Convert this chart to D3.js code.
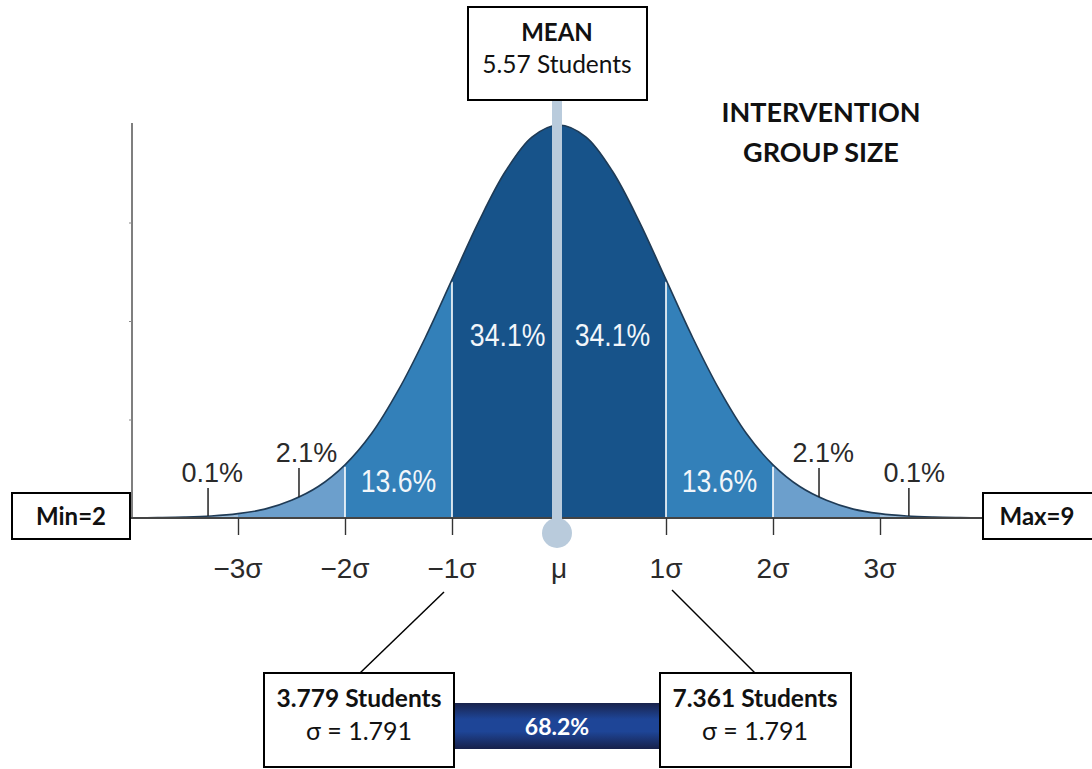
<!DOCTYPE html>
<html>
<head>
<meta charset="utf-8">
<script src="https://cdn.jsdelivr.net/npm/d3@7"></script>
<style>
  body { margin: 0; background: #fff; }
  .box-text { font-family: Lato, "Open Sans", sans-serif; }
  .fig-text { font-family: "Liberation Sans", Arial, sans-serif; }
</style>
</head>
<body>
<svg id="chart" width="1092" height="769"></svg>
<script>
// bell curve heights (z in sigma units, density)
const curveZ = [-4, -3.75, -3.5, -3.25, -3, -2.75, -2.5, -2.25, -2, -1.75, -1.5, -1.25, -1, -0.75, -0.5, -0.25,
  0, 0.25, 0.5, 0.75, 1, 1.25, 1.5, 1.75, 2, 2.25, 2.5, 2.75, 3, 3.25, 3.5, 3.75, 4];
const curveDensity = [0.0001, 0.0004, 0.0009, 0.002, 0.0044, 0.009, 0.018, 0.032, 0.054, 0.086, 0.130, 0.183, 0.242, 0.301, 0.352, 0.387,
  0.399, 0.387, 0.352, 0.301, 0.242, 0.183, 0.130, 0.086, 0.054, 0.032, 0.018, 0.009, 0.0044, 0.002, 0.0009, 0.0004, 0.0001];

const sigmaTicks = [-3, -2, -1, 0, 1, 2, 3];
const sigmaLabels = ["\u22123\u03c3", "\u22122\u03c3", "\u22121\u03c3", "\u03bc", "1\u03c3", "2\u03c3", "3\u03c3"];
const bandPct = ["0.1%", "2.1%", "13.6%", "34.1%", "34.1%", "13.6%", "2.1%", "0.1%"];

const meanStudents = 5.57;
const sdStudents = 1.791;
const minStudents = 2;
const maxStudents = 9;
const lowerStudents = 3.779;
const upperStudents = 7.361;
const withinOneSd = "68.2%";
const titleLines = ["INTERVENTION", "GROUP SIZE"];

const svg = d3.select("#chart");
const pts = curveZ.map((z, i) => ({z: z, d: curveDensity[i]}));

const x = d3.scaleLinear().domain([-4, 4]).range([131, 987]);
const y = d3.scaleLinear().domain([0, 0.399]).range([518, 125]);

// colour bands clipped from one area
const bands = [
  {from: -4, to: -3, color: "#9dbfdd"},
  {from: -3, to: -2, color: "#6c9fcc"},
  {from: -2, to: -1, color: "#3380b9"},
  {from: -1, to: 1, color: "#17538a"},
  {from: 1, to: 2, color: "#3380b9"},
  {from: 2, to: 3, color: "#6c9fcc"},
  {from: 3, to: 4, color: "#9dbfdd"}
];

const area = d3.area().x(d => x(d.z)).y0(y(0)).y1(d => y(d.d)).curve(d3.curveCatmullRom);
const line = d3.line().x(d => x(d.z)).y(d => y(d.d)).curve(d3.curveCatmullRom);

const defs = svg.append("defs");
bands.forEach((b, i) => {
  defs.append("clipPath").attr("id", "band" + i)
    .append("rect")
    .attr("x", x(b.from)).attr("width", x(b.to) - x(b.from))
    .attr("y", 0).attr("height", y(0));
});

const grad = defs.append("linearGradient").attr("id", "barGrad")
  .attr("x1", 0).attr("y1", 0).attr("x2", 0).attr("y2", 1);
grad.append("stop").attr("offset", "0%").attr("stop-color", "#19234c");
grad.append("stop").attr("offset", "35%").attr("stop-color", "#1e4597");
grad.append("stop").attr("offset", "62%").attr("stop-color", "#1e4597");
grad.append("stop").attr("offset", "100%").attr("stop-color", "#17214a");

svg.selectAll(".band").data(bands).enter().append("path")
  .attr("class", "band")
  .attr("d", area(pts))
  .attr("clip-path", (d, i) => "url(#band" + i + ")")
  .attr("fill", d => d.color);

// white separators at +-1, +-2 sigma
svg.selectAll(".sep").data([-2, -1, 1, 2]).enter().append("line")
  .attr("x1", d => x(d)).attr("x2", d => x(d))
  .attr("y1", y(0))
  .attr("y2", d => y(curveDensity[curveZ.indexOf(d)]) + 2)
  .attr("stroke", "#fff").attr("stroke-width", 1.6);

svg.append("path").attr("d", line(pts))
  .attr("fill", "none").attr("stroke", "#1f3b56").attr("stroke-width", 1.6);

// y axis (no labels)
const yAxis = svg.append("g").attr("transform", "translate(132,0)")
  .call(d3.axisLeft(y).tickValues([0.1, 0.2, 0.3]).tickSize(3).tickFormat(""));
yAxis.select(".domain").attr("d", "M0," + (y(0.399) - 2) + "V" + y(0)).attr("stroke", "#555").attr("stroke-width", 1.5);
yAxis.selectAll(".tick line").attr("stroke", "#888");

// baseline + sigma ticks
const xAxis = svg.append("g").attr("transform", "translate(0," + y(0) + ")")
  .call(d3.axisBottom(x).tickValues(sigmaTicks).tickSize(17).tickFormat(""));
xAxis.select(".domain").attr("d", "M131,0H988").attr("stroke", "#444").attr("stroke-width", 2);
xAxis.selectAll(".tick line").attr("stroke", "#333").attr("stroke-width", 1.4)
  .attr("display", d => d === 0 ? "none" : null);

svg.selectAll(".sig").data(sigmaTicks).enter().append("text")
  .attr("class", "fig-text")
  .attr("x", d => x(d))
  .attr("y", 578)
  .attr("text-anchor", "middle")
  .attr("font-size", 28)
  .attr("fill", "#2a2a2a")
  .text((d, i) => sigmaLabels[i]);

// percentage labels
const pctPos = [-3.24, -2.36, -1.5, -0.48, 0.5, 1.5, 2.47, 3.32];
const pctBase = [482, 462, 492, 346, 346, 492, 462, 482];
const pctTick = [-3.28, -2.43, null, null, null, null, 2.43, 3.27];
const inner = i => i >= 2 && i <= 5;
svg.selectAll(".pct").data(bandPct).enter().append("text")
  .attr("class", "fig-text")
  .attr("transform", (d, i) => "translate(" + x(pctPos[i]) + "," + pctBase[i] + ")" + (inner(i) ? " scale(0.86,1)" : ""))
  .attr("text-anchor", "middle")
  .attr("font-size", (d, i) => inner(i) ? 31 : 27)
  .attr("fill", (d, i) => inner(i) ? "#f2f6fa" : "#2a2a2a")
  .text(d => d);

svg.selectAll(".pctTick").data(pctTick.filter(d => d !== null)).enter().append("line")
  .attr("x1", d => x(d)).attr("x2", d => x(d))
  .attr("y1", d => Math.abs(d) > 3 ? 488 : 468)
  .attr("y2", d => Math.abs(d) > 3 ? 516 : 497)
  .attr("stroke", "#222").attr("stroke-width", 1.5);

// mean pole and marker
svg.append("rect").attr("x", x(0) - 7).attr("width", 10)
  .attr("y", 100).attr("height", 433)
  .attr("fill", "#b9cbdc");
svg.append("circle").attr("cx", x(0) - 2).attr("cy", 533).attr("r", 15).attr("fill", "#b9cbdc");

// boxes
function box(x0, y0, w, h) {
  svg.append("rect").attr("x", x0).attr("y", y0).attr("width", w).attr("height", h)
    .attr("fill", "#fff").attr("stroke", "#000").attr("stroke-width", 2);
}
function txt(tx, ty, s, size, weight, fill) {
  svg.append("text").attr("class", "box-text")
    .attr("x", tx).attr("y", ty).attr("text-anchor", "middle")
    .attr("font-size", size).attr("font-weight", weight)
    .style("fill", fill || "#111").text(s);
}

box(468, 7, 179, 93);
txt(557, 41, "MEAN", 24, "bold");
txt(557, 73, meanStudents + " Students", 24.5, "normal");

titleLines.forEach((t, i) => txt(821, 122 + i * 40, t, 27, "bold"));

box(12, 493, 118, 46);
txt(71, 525, "Min=" + minStudents, 24, "bold");
box(983, 493, 120, 46);
txt(1037, 525, "Max=" + maxStudents, 24, "bold");

// connectors
svg.append("line").attr("x1", x(-1) - 8).attr("y1", 592).attr("x2", 360).attr("y2", 673)
  .attr("stroke", "#000").attr("stroke-width", 1.5);
svg.append("line").attr("x1", x(1) + 6).attr("y1", 590).attr("x2", 755).attr("y2", 673)
  .attr("stroke", "#000").attr("stroke-width", 1.5);

svg.append("rect").attr("x", 454).attr("y", 703).attr("width", 205).attr("height", 46)
  .attr("fill", "url(#barGrad)");
txt(557, 735, withinOneSd, 23, "bold", "#fff");

box(264, 673, 190, 94);
txt(359, 707, lowerStudents + " Students", 24.5, "bold");
txt(359, 740, "\u03c3 = " + sdStudents, 25, "normal");

box(660, 673, 191, 94);
txt(755, 707, upperStudents + " Students", 24.5, "bold");
txt(755, 740, "\u03c3 = " + sdStudents, 25, "normal");
</script>
</body>
</html>
